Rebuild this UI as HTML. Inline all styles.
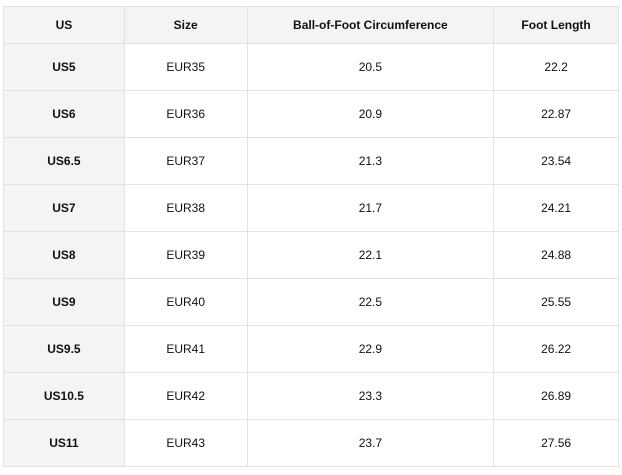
<!DOCTYPE html><html><head><style>
body{margin:0;background:#fff;font-family:"Liberation Sans",Arial,sans-serif;}
table{position:absolute;left:3px;top:6px;border-collapse:collapse;width:616px;font-size:12px;color:#111;}
td,th{border:1px solid #e3e3e3;text-align:center;padding:0;}
th{background:#f4f4f4;height:36px;font-weight:bold;}
td{height:46px;}
td:first-child{background:#f4f4f4;font-weight:bold;}
</style></head><body>
<table>
<colgroup><col style="width:121px"><col style="width:123px"><col style="width:247px"><col style="width:125px"></colgroup>
<tr><th>US</th><th>Size</th><th>Ball-of-Foot Circumference</th><th>Foot Length</th></tr>
<tr><td>US5</td><td>EUR35</td><td>20.5</td><td>22.2</td></tr>
<tr><td>US6</td><td>EUR36</td><td>20.9</td><td>22.87</td></tr>
<tr><td>US6.5</td><td>EUR37</td><td>21.3</td><td>23.54</td></tr>
<tr><td>US7</td><td>EUR38</td><td>21.7</td><td>24.21</td></tr>
<tr><td>US8</td><td>EUR39</td><td>22.1</td><td>24.88</td></tr>
<tr><td>US9</td><td>EUR40</td><td>22.5</td><td>25.55</td></tr>
<tr><td>US9.5</td><td>EUR41</td><td>22.9</td><td>26.22</td></tr>
<tr><td>US10.5</td><td>EUR42</td><td>23.3</td><td>26.89</td></tr>
<tr><td>US11</td><td>EUR43</td><td>23.7</td><td>27.56</td></tr>
</table>
</body></html>
